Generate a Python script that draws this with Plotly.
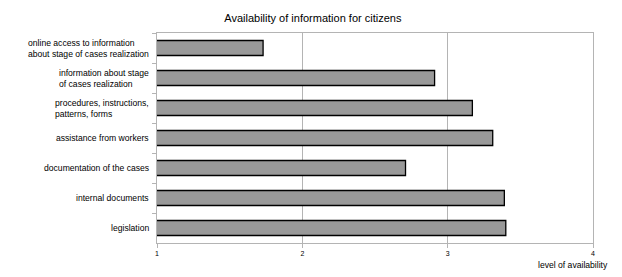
import plotly.graph_objects as go

categories = [
    "online access to information<br>about stage of cases realization",
    "information about stage<br>of cases realization",
    "procedures, instructions,<br>patterns, forms",
    "assistance from workers",
    "documentation of the cases",
    "internal documents",
    "legislation",
]
values = [1.73, 2.91, 3.17, 3.31, 2.71, 3.39, 3.40]
x_ticks = [1, 2, 3, 4]

fig = go.Figure(go.Bar(
    y=categories, x=values, orientation="h", base=0,
    marker=dict(color="#999999", line=dict(color="#000000", width=1.3)),
    width=0.5,
))

fig.update_layout(
    width=622, height=277,
    margin=dict(l=157, r=29, t=33, b=34),
    plot_bgcolor="white", paper_bgcolor="white",
    showlegend=False,
    font=dict(family="Liberation Sans, Arial, sans-serif", color="#000000"),
    title=dict(text="Availability of information for citizens", x=0.503, xanchor="center",
               y=0.935, yanchor="middle", font=dict(size=11)),
    bargap=0.5,
)
fig.update_xaxes(
    range=[1, 4], tickvals=x_ticks, ticktext=[str(v) for v in x_ticks],
    showgrid=True, gridcolor="#b4b4b4", gridwidth=1,
    showline=True, linecolor="#b4b4b4", linewidth=1, mirror=True,
    ticks="outside", ticklen=4, tickcolor="#b4b4b4",
    tickfont=dict(size=7), zeroline=False,
)
fig.update_yaxes(
    autorange="reversed",
    showline=True, linecolor="#b4b4b4", linewidth=1, mirror=True,
    ticks="outside", ticklen=4, tickcolor="#b4b4b4", tickson="boundaries",
    showticklabels=False, showgrid=False,
)
for cat in categories:
    fig.add_annotation(text=cat, xref="paper", yref="y", x=-0.014, y=cat,
                       xanchor="right", yanchor="middle", align="left",
                       showarrow=False, font=dict(size=8.6))
fig.add_annotation(text="level of availability", xref="paper", yref="paper",
                   x=1.04, y=-0.105, xanchor="right", yanchor="middle",
                   showarrow=False, font=dict(size=8.6))

fig.write_html("out.html")
